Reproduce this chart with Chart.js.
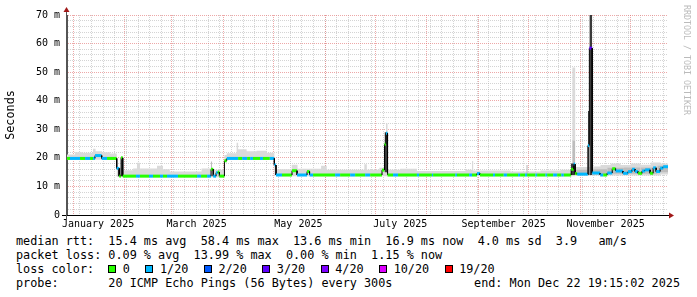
<!DOCTYPE html>
<html>
<head>
<meta charset="utf-8">
<script src="https://cdn.jsdelivr.net/npm/chart.js@4.4.1/dist/chart.umd.min.js"></script>
<style>
  html, body { margin: 0; padding: 0; background: #fff; }
  body { width: 697px; height: 297px; position: relative; overflow: hidden; }
  #plot { position: absolute; left: 0; top: 0; }
  .legend { position: absolute; left: 16px; top: 234px; font: 11.8px "DejaVu Sans Mono", monospace; line-height: 14px; white-space: pre; color: #000; }
  .box { display: inline-block; width: 6px; height: 6px; border: 1px solid #000; margin-right: 6.5px; }
  .item { margin-right: 15.5px; }
  #end { position: absolute; right: 17px; top: 276px; font: 11.8px "DejaVu Sans Mono", monospace; line-height: 14px; white-space: pre; }
  #credit { position: absolute; left: 682px; top: 5px; writing-mode: vertical-rl; font: 8.3px "DejaVu Sans Mono", monospace; color: #bbb; }
</style>
</head>
<body>
<canvas id="plot" width="697" height="232"></canvas>
<div class="legend" id="legend"></div>
<div id="end">end: Mon Dec 22 19:15:02 2025</div>
<div id="credit">RRDTOOL / TOBI OETIKER</div>
<script>
// x axis is in days since 1 Jan 2025, 360 days ending 22 Dec 2025
const xMin = -3.6, xMax = 356.4;

const monthStarts = [0, 31, 59, 90, 120, 151, 181, 212, 243, 273, 304, 334];
const monthLabels = ['January 2025', 'March 2025', 'May 2025', 'July 2025', 'September 2025', 'November 2025'];
const labelDays = [15, 74, 135, 196, 258, 319];
const weekDays = [];
for (let d = 4; d < xMax; d += 7) weekDays.push(d);

const lossLabels = ['0', '1/20', '2/20', '3/20', '4/20', '10/20', '19/20'];
const lossColors = ['#26ff00', '#00b8ff', '#0059ff', '#5e00ff', '#7e00ff', '#dd00ff', '#ff0000'];

// median rtt (ms): each value holds from its day until the next one
const medDays = [-3.6, -1.8, 4.2, 7.2, 10.2, 12.0, 13.2, 17.2, 20.4, 26.2, 27.7, 28.8, 29.8,
  37.7, 40.1, 45.5, 47.9, 52.1, 53.9, 56.3, 62.9, 74.3, 76.7, 80.3, 82.7, 84.0, 85.7, 86.7, 87.7,
  90.7, 92.1, 98.9, 101.3, 104.3, 106.1, 107.8, 112.0, 113.8, 117.9, 120.6, 121.6, 125.2, 131.2,
  134.2, 140.2, 141.7, 143.8, 157.0, 160.0, 166.0, 169.0, 175.0, 178.0, 185.1, 186.6, 187.5, 188.4,
  191.7, 194.7, 206.0, 207.3, 215.0, 215.7, 229.0, 230.0, 237.3, 239.0, 242.0, 243.8, 251.6, 252.8,
  258.0, 260.0, 266.6, 267.8, 270.8, 272.0, 277.0, 278.0, 283.0, 284.0, 287.6, 290.0, 292.5, 294.0,
  298.4, 299.9, 300.8, 302.0, 308.4, 309.3, 311.0, 315.8, 317.6, 320.0, 323.0, 325.0, 329.5, 332.5,
  334.9, 336.7, 338.5, 340.9, 342.7, 345.7, 347.5, 349.3, 351.7, 353.5];
const medMs = [19.8, 19.8, 19.8, 19.8, 19.8, 19.8, 20.8, 19.8, 19.8, 16.3, 13.6, 20.0, 13.6,
  13.6, 13.6, 13.6, 13.6, 13.6, 13.6, 13.6, 13.6, 13.6, 13.6, 13.6, 16.0, 13.6, 14.8, 15.0, 13.6,
  19.0, 19.8, 19.8, 19.8, 19.8, 19.8, 19.8, 19.8, 19.8, 19.8, 17.5, 14.0, 14.0, 15.5,
  14.0, 15.2, 14.0, 14.0, 14.0, 14.0, 14.0, 14.0, 14.0, 14.0, 15.7, 24.8, 28.6, 14.0,
  14.0, 14.0, 14.0, 14.0, 14.0, 14.0, 14.0, 14.0, 14.0, 14.0, 14.5, 14.0, 14.0, 14.0,
  14.0, 14.0, 14.0, 14.0, 14.0, 14.0, 14.0, 14.0, 14.0, 14.0, 14.0, 14.0, 14.0, 14.0,
  16.0, 17.8, 14.5, 14.3, 24.3, 58.4, 14.7, 14.0, 14.0, 14.7, 16.2, 15.4, 14.6, 15.2,
  16.0, 15.2, 14.6, 15.4, 15.8, 14.6, 16.5, 15.2, 16.4, 16.9];
const medLoss = [0, 1, 0, 1, 0, 1, 1, 1, 0, 1, 0, 0, 0,
  1, 0, 1, 0, 1, 0, 1, 0, 1, 0, 1, 0, 1, 1, 0, 0,
  0, 1, 0, 1, 0, 1, 0, 1, 0, 1, 1, 1, 0, 0,
  1, 0, 1, 0, 1, 0, 1, 0, 1, 0, 0, 0, 1, 0,
  1, 0, 1, 0, 1, 0, 1, 0, 1, 0, 1, 0, 1, 0,
  1, 0, 1, 0, 1, 0, 1, 0, 1, 0, 1, 0, 1, 0,
  0, 1, 0, 1, 1, 3, 1, 1, 0, 1, 0, 1, 1, 1,
  1, 1, 0, 1, 1, 0, 1, 1, 1, 1];

// light smoke: spread of the 20 pings, low and high edge (ms)
const smokeDays = [-3.6, 1.2, 6.0, 12.0, 13.5, 17.4, 22.2, 26.2, 30.0, 36.0, 38.3, 40.1, 50.3, 53.9,
  58.0, 77.0, 84.0, 90.7, 92.1, 98.0, 98.9, 104.0, 110.0, 116.0, 120.6, 121.6, 131.0, 134.5, 148.6,
  152.0, 174.5, 176.0, 183.5, 187.5, 188.4, 196.0, 206.0, 235.0, 239.0, 239.7, 262.0, 280.0, 292.0,
  299.1, 300.8, 311.0, 316.0, 322.0, 328.0, 334.0, 340.0, 346.0, 352.0];
const smokeLo = [19.3, 19.3, 19.3, 19.3, 19.3, 19.3, 19.3, 13.4, 13.2, 13.2, 13.2, 13.2, 13.2, 13.2,
  13.2, 13.2, 13.2, 18.5, 19.3, 19.3, 19.3, 19.3, 19.3, 19.3, 13.8, 13.6, 13.6, 13.6, 13.6,
  13.6, 13.6, 13.6, 13.6, 13.6, 13.6, 13.6, 13.6, 13.6, 13.6, 13.6, 13.6, 13.6, 13.6,
  13.6, 13.8, 13.8, 13.8, 13.8, 13.8, 13.8, 13.8, 13.8, 14.2];
const smokeHi = [21.2, 22.0, 21.8, 23.2, 22.3, 22.0, 21.5, 16.5, 15.7, 16.3, 18.3, 16.3, 17.2, 16.0,
  15.2, 16.3, 15.8, 21.0, 21.6, 25.3, 23.0, 22.3, 22.5, 21.8, 17.0, 16.0, 17.6, 16.2, 17.2,
  15.8, 17.8, 15.8, 16.5, 32.0, 15.8, 16.2, 15.4, 15.8, 18.9, 15.6, 15.2, 15.6, 15.8,
  51.6, 16.8, 17.0, 17.5, 18.0, 17.5, 18.0, 17.6, 18.4, 18.0];

// medium smoke bursts (start day, end day, low, high)
const midStart = [82.5, 271.5, 299.1, 300.8, 311.0, 320.0, 330.0, 340.0, 350.0];
const midEnd   = [83.4, 272.4, 300.8, 308.4, 320.0, 330.0, 340.0, 350.0, 356.4];
const midLo    = [16.0, 14.0, 18.0, 14.0, 14.2, 14.4, 14.4, 14.4, 15.0];
const midHi    = [18.7, 17.5, 26.0, 15.8, 16.0, 16.5, 16.6, 16.6, 17.2];

// dark smoke bursts
const darkStart = [27.0, 28.8, 186.6, 298.2, 308.4, 309.3];
const darkEnd   = [28.2, 29.8, 188.4, 300.8, 309.3, 311.0];
const darkLo    = [13.6, 13.6, 15.0, 14.0, 14.0, 14.0];
const darkHi    = [16.3, 20.0, 29.0, 18.0, 36.4, 70.0];

// legend
const legendLines = [
  'median rtt:  15.4 ms avg  58.4 ms max  13.6 ms min  16.9 ms now  4.0 ms sd  3.9   am/s',
  'packet loss: 0.09 % avg  13.99 % max  0.00 % min  1.15 % now',
  null,
  'probe:       20 ICMP Echo Pings (56 Bytes) every 300s'
];

const legend = document.getElementById('legend');
legendLines.forEach(txt => {
  const div = document.createElement('div');
  if (txt !== null) {
    div.textContent = txt;
  } else {
    div.appendChild(document.createTextNode('loss color:  '));
    lossLabels.forEach((lbl, i) => {
      const item = document.createElement('span');
      item.className = 'item';
      const box = document.createElement('span');
      box.className = 'box';
      box.style.background = lossColors[i];
      item.appendChild(box);
      item.appendChild(document.createTextNode(lbl));
      div.appendChild(item);
    });
  }
  legend.appendChild(div);
});

function steps(days, vals) {
  const pts = days.map((d, i) => ({x: d, y: vals[i]}));
  pts.push({x: xMax, y: vals[vals.length - 1]});
  return pts;
}

function bursts(starts, ends, vals) {
  const pts = [];
  starts.forEach((s, i) => {
    pts.push({x: s, y: vals[i]}, {x: ends[i], y: vals[i]}, {x: ends[i], y: null});
  });
  return pts;
}

const medPts = [], medPtLoss = [];
medDays.forEach((d, i) => {
  const end = i + 1 < medDays.length ? medDays[i + 1] : xMax;
  medPts.push({x: d, y: medMs[i]}, {x: end, y: medMs[i]});
  medPtLoss.push(medLoss[i], medLoss[i]);
});

// x ticks: week lines, month lines, and label positions
const xTicks = [];
weekDays.forEach(d => xTicks.push({value: d, kind: 'week', text: ''}));
monthStarts.forEach(d => xTicks.push({value: d, kind: 'month', text: ''}));
labelDays.forEach((d, i) => xTicks.push({value: d, kind: 'label', text: monthLabels[i]}));

const minorGrid = 'rgba(170,170,170,0.5)';
const majorGrid = 'rgba(225,110,110,0.6)';

const axisArrows = {
  id: 'axisArrows',
  afterDraw(chart) {
    const {ctx, chartArea: a} = chart;
    ctx.save();
    ctx.lineWidth = 1;
    ctx.strokeStyle = '#000';
    ctx.beginPath();
    ctx.moveTo(a.left - 5, a.bottom + 0.5);
    ctx.lineTo(a.right + 2, a.bottom + 0.5);
    ctx.stroke();
    ctx.strokeStyle = '#555';
    ctx.beginPath();
    ctx.moveTo(a.left - 0.5, a.bottom + 4);
    ctx.lineTo(a.left - 0.5, a.top - 4);
    ctx.stroke();
    ctx.fillStyle = '#a01818';
    ctx.beginPath();
    ctx.moveTo(a.right + 1, a.bottom - 2.5);
    ctx.lineTo(a.right + 6, a.bottom + 0.5);
    ctx.lineTo(a.right + 1, a.bottom + 3.5);
    ctx.fill();
    ctx.beginPath();
    ctx.moveTo(a.left - 3.5, a.top - 3);
    ctx.lineTo(a.left - 0.5, a.top - 8);
    ctx.lineTo(a.left + 2.5, a.top - 3);
    ctx.fill();
    ctx.restore();
  }
};

Chart.defaults.font.family = '"DejaVu Sans Mono", monospace';
Chart.defaults.color = '#000';

const hidden = {pointRadius: 0, borderWidth: 0, fill: false};

new Chart(document.getElementById('plot'), {
  type: 'line',
  data: {
    datasets: [
      {
        label: 'median rtt',
        data: medPts,
        order: 1,
        pointRadius: 0,
        borderWidth: 3,
        borderColor: lossColors[0],
        segment: {
          borderColor: c => c.p0.parsed.x === c.p1.parsed.x ? '#000' : lossColors[medPtLoss[c.p0DataIndex]],
          borderWidth: c => c.p0.parsed.x === c.p1.parsed.x ? 1 : 3
        }
      },
      {label: 'dark hi', data: bursts(darkStart, darkEnd, darkHi), order: 2, pointRadius: 0, borderWidth: 0, fill: '+1', backgroundColor: '#3a3a3a'},
      {label: 'dark lo', data: bursts(darkStart, darkEnd, darkLo), order: 2, ...hidden},
      {label: 'mid hi', data: bursts(midStart, midEnd, midHi), order: 3, pointRadius: 0, borderWidth: 0, fill: '+1', backgroundColor: '#bdbdbd'},
      {label: 'mid lo', data: bursts(midStart, midEnd, midLo), order: 3, ...hidden},
      {label: 'smoke hi', data: steps(smokeDays, smokeHi), order: 4, stepped: true, pointRadius: 0, borderWidth: 0, fill: '+1', backgroundColor: '#dadada'},
      {label: 'smoke lo', data: steps(smokeDays, smokeLo), order: 4, stepped: true, ...hidden}
    ]
  },
  options: {
    responsive: false,
    animation: false,
    devicePixelRatio: 1,
    events: [],
    layout: {padding: {top: 15, right: 29, left: 0, bottom: 0}},
    plugins: {
      legend: {display: false},
      tooltip: {enabled: false}
    },
    scales: {
      x: {
        type: 'linear',
        min: xMin,
        max: xMax,
        afterBuildTicks: scale => { scale.ticks = xTicks.map(t => ({value: t.value})); },
        afterFit: scale => { scale.height = 17; },
        ticks: {
          autoSkip: false,
          maxRotation: 0,
          minRotation: 0,
          padding: 3,
          font: {size: 10},
          callback: (v, i) => xTicks[i] ? xTicks[i].text : ''
        },
        grid: {
          drawTicks: false,
          lineWidth: 1,
          color: c => {
            const t = xTicks[c.index];
            if (!t || t.kind === 'label') return 'rgba(0,0,0,0)';
            return t.kind === 'month' ? majorGrid : minorGrid;
          }
        },
        border: {display: true, color: '#000', width: 1, dash: [1, 1]}
      },
      y: {
        min: 0,
        max: 70,
        afterFit: scale => { scale.width = 67; },
        ticks: {
          stepSize: 2,
          autoSkip: false,
          padding: 7,
          font: {size: 10},
          callback: v => v % 10 === 0 ? (v === 0 ? '0' : v + ' m') : ''
        },
        grid: {
          drawTicks: false,
          lineWidth: 1,
          color: c => c.tick.value % 10 === 0 ? majorGrid : minorGrid
        },
        border: {display: true, color: '#555', width: 1, dash: [1, 1]},
        title: {display: true, text: 'Seconds', font: {size: 11.8}}
      }
    }
  },
  plugins: [axisArrows]
});
</script>
</body>
</html>
